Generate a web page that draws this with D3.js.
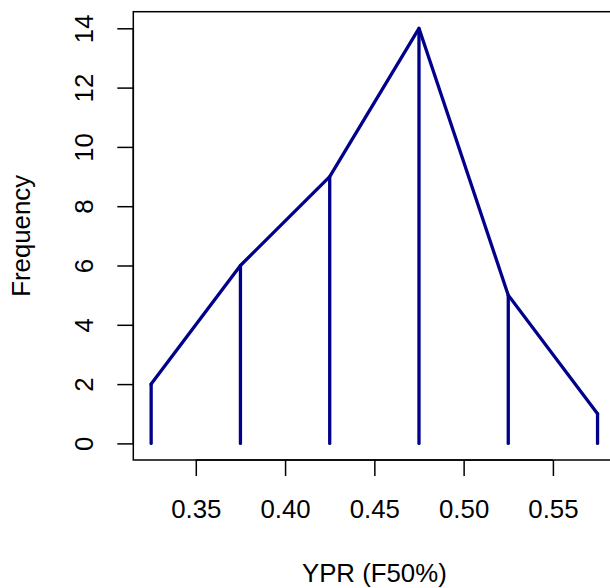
<!DOCTYPE html>
<html><head><meta charset="utf-8">
<script src="https://cdn.jsdelivr.net/npm/d3@7"></script>
<style>html,body{margin:0;padding:0;background:#fff;}svg{display:block;}</style>
</head><body>
<script>
const midpoints = [0.325, 0.375, 0.425, 0.475, 0.525, 0.575];
const frequency = [2, 6, 9, 14, 5, 1];
const xTicks = [0.35, 0.40, 0.45, 0.50, 0.55];
const yTicks = [0, 2, 4, 6, 8, 10, 12, 14];
const xLabel = "YPR (F50%)";
const yLabel = "Frequency";

const W = 610, H = 588;
const font = "'Liberation Sans', Arial, Helvetica, sans-serif";
const fs = 25.8;
const svg = d3.select("body").append("svg").attr("width", W).attr("height", H);

const x = d3.scaleLinear().domain([0.315, 0.585]).range([133.3, 615.4]);
const y = d3.scaleLinear().domain([-0.56, 14.56]).range([460, 11.7]);

// box
svg.append("rect").attr("x", x(0.315)).attr("y", y(14.56))
  .attr("width", x(0.585) - x(0.315)).attr("height", y(-0.56) - y(14.56))
  .attr("fill", "none").attr("stroke", "#000").attr("stroke-width", 1.5);

// x axis
const xAxis = d3.axisBottom(x).tickValues(xTicks).tickFormat(d3.format(".2f")).tickSize(16).tickPadding(0);
const gx = svg.append("g").attr("transform", `translate(0,${y(-0.56)})`).call(xAxis);
gx.select(".domain").attr("d", `M${x(xTicks[0])},0H${x(xTicks[xTicks.length-1])}`).attr("stroke-width", 1.5);
gx.selectAll(".tick line").attr("stroke-width", 1.5);
gx.selectAll(".tick text").attr("y", 58).attr("dy", null).attr("font-size", fs).attr("font-family", font).attr("fill", "#000");

// y axis
const yAxis = d3.axisLeft(y).tickValues(yTicks).tickSize(16).tickPadding(0);
const gy = svg.append("g").attr("transform", `translate(${x(0.315)},0)`).call(yAxis);
gy.select(".domain").attr("d", `M0,${y(yTicks[0])}V${y(yTicks[yTicks.length-1])}`).attr("stroke-width", 1.5);
gy.selectAll(".tick line").attr("stroke-width", 1.5);
gy.selectAll(".tick text")
  .attr("x", null).attr("y", null).attr("dy", null)
  .attr("text-anchor", "middle")
  .attr("transform", `translate(${93.3 - x(0.315)},0) rotate(-90)`)
  .attr("font-size", fs).attr("font-family", font).attr("fill", "#000");

// polyline
const line = d3.line().x((d, i) => x(midpoints[i])).y(d => y(d));
svg.append("path").datum(frequency).attr("d", line)
  .attr("fill", "none").attr("stroke", "#00008B").attr("stroke-width", 3.3)
  .attr("stroke-linejoin", "round").attr("stroke-linecap", "round");

// vertical lines
svg.selectAll("line.h").data(frequency).enter().append("line")
  .attr("x1", (d, i) => x(midpoints[i])).attr("x2", (d, i) => x(midpoints[i]))
  .attr("y1", y(0)).attr("y2", d => y(d))
  .attr("stroke", "#00008B").attr("stroke-width", 3.3).attr("stroke-linecap", "round");

// axis titles
svg.append("text").attr("x", (x(0.315) + x(0.585)) / 2).attr("y", 582)
  .attr("text-anchor", "middle").attr("font-size", fs).attr("font-family", font).text(xLabel);
svg.append("text").attr("transform", `translate(30,${(y(-0.56) + y(14.56)) / 2}) rotate(-90)`)
  .attr("text-anchor", "middle").attr("font-size", fs).attr("font-family", font).text(yLabel);
</script>
</body></html>
